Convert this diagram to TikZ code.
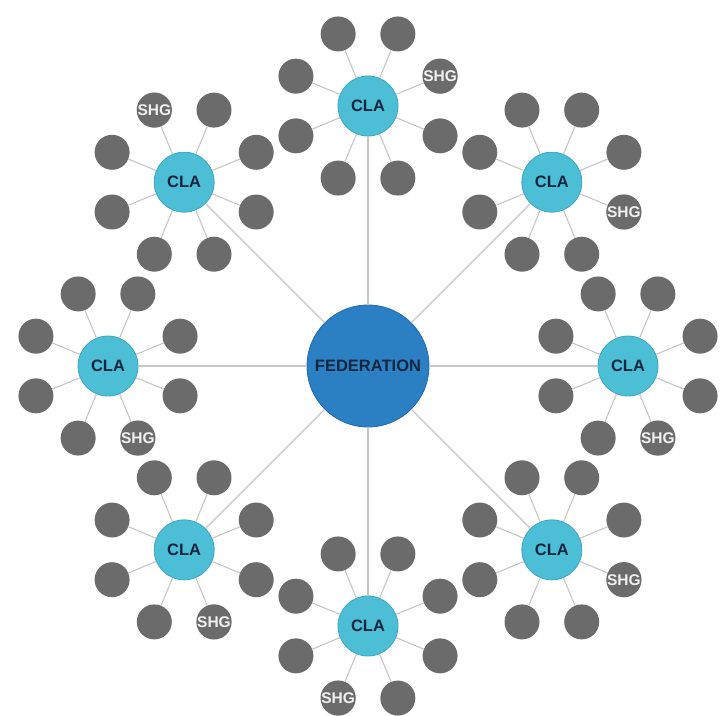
\documentclass[tikz,border=0pt]{standalone}
\usepackage{fontspec}
\setmainfont{Liberation Sans}
\usetikzlibrary{calc}
\definecolor{satgray}{HTML}{6B6B6B}
\definecolor{clafill}{HTML}{4CBFD6}
\definecolor{claedge}{HTML}{3AA6BE}
\definecolor{fedfill}{HTML}{2B80C4}
\definecolor{fededge}{HTML}{2068A8}
\definecolor{navy}{HTML}{14263F}
\definecolor{linkgray}{HTML}{C6C6C6}
\tikzset{
  fed/.style={circle, fill=fedfill, draw=fededge, line width=0.8pt, minimum size=122pt, inner sep=0pt, text=navy, font=\bfseries\fontsize{16.5}{16.5}\selectfont},
  cla/.style={circle, fill=clafill, draw=claedge, line width=0.8pt, minimum size=60pt, inner sep=0pt, text=navy, font=\bfseries\fontsize{16.5}{16.5}\selectfont},
  sat/.style={circle, fill=satgray, minimum size=35pt, inner sep=0pt, text=white!94!black, font=\bfseries\fontsize{15.5}{15.5}\selectfont},
  link/.style={draw=linkgray, line width=1.1pt}
}
\begin{document}
\begin{tikzpicture}[x=1pt,y=-1pt]
\useasboundingbox (0,0) rectangle (722,715);
\coordinate (c) at (368,366);
\node[fed] (fed) at (c) {FEDERATION};
\foreach \i/\s in {0/6,1/7,2/0,3/2,4/6,5/6,6/5,7/7} {
  \node[cla] (cla\i) at ($(c)+(-\i*45:260)$) {CLA};
  \draw[link] (fed) -- (cla\i);
  \foreach \j in {0,...,7} {
    \ifnum\j=\s
      \node[sat] (s\i-\j) at ($(cla\i)+(-22.5-\j*45:78)$) {SHG};
    \else
      \node[sat] (s\i-\j) at ($(cla\i)+(-22.5-\j*45:78)$) {};
    \fi
    \draw[link] (cla\i) -- (s\i-\j);
  }
}
\end{tikzpicture}
\end{document}
